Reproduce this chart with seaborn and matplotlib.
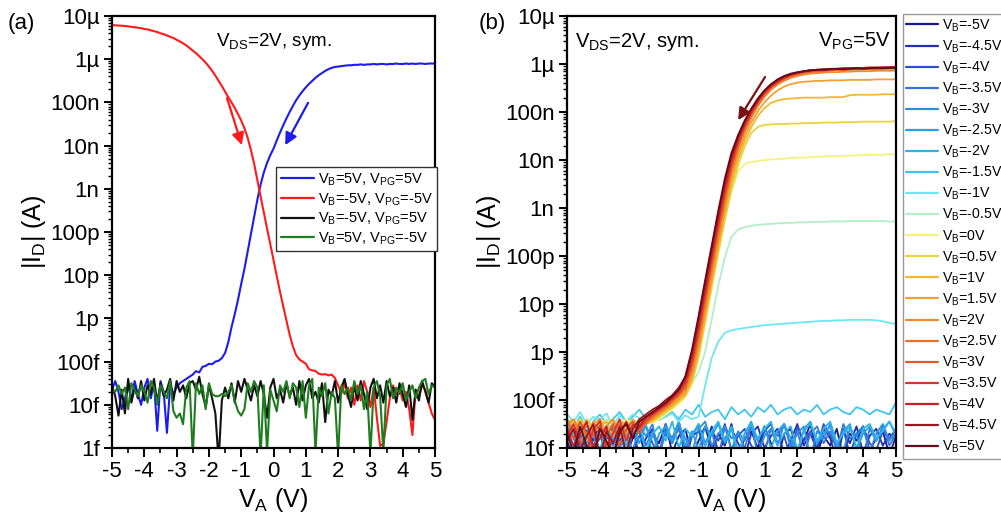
import numpy as np
import pandas as pd
import matplotlib
matplotlib.use("Agg")
import matplotlib.pyplot as plt
from matplotlib.lines import Line2D
from matplotlib.ticker import LogLocator, NullFormatter, MultipleLocator
import seaborn as sns

# ---------------------------------------------------------------- sweep grids
va_fine = np.round(np.linspace(-5, 5, 101), 2)    # panel (a), 0.1 V steps
va_coarse = np.round(np.linspace(-5, 5, 51), 2)   # panel (b), 0.2 V steps

# ------------------------------------------------ panel (a): log10(|I_D| / A)
a_b5_pg5 = [
    -13.65, -13.45, -13.70, -14.10, -13.85, -13.55, -13.90, -13.45, -13.75, -14.00,
    -13.60, -13.40, -13.85, -13.50, -14.60, -13.45, -13.70, -14.65, -13.55, -13.75,
    -13.60, -13.50, -13.45, -13.40, -13.35, -13.30, -13.22, -13.25, -13.12, -13.10,
    -13.05, -13.06, -13.00, -12.98, -12.92, -12.80, -12.55, -12.20, -11.90, -11.57,
    -11.20, -10.85, -10.45, -10.05, -9.65, -9.25, -8.90, -8.62, -8.40, -8.22,
    -8.07, -7.88, -7.70, -7.53, -7.37, -7.22, -7.08, -6.95, -6.84, -6.74,
    -6.65, -6.57, -6.50, -6.43, -6.37, -6.32, -6.27, -6.23, -6.20, -6.18,
    -6.17, -6.16, -6.15, -6.14, -6.14, -6.13, -6.13, -6.12, -6.13, -6.12,
    -6.12, -6.11, -6.12, -6.11, -6.11, -6.12, -6.11, -6.11, -6.10, -6.11,
    -6.11, -6.10, -6.11, -6.10, -6.11, -6.10, -6.10, -6.11, -6.10, -6.10,
    -6.10]
a_bm5_pgm5 = [
    -5.21, -5.215, -5.22, -5.225, -5.23, -5.24, -5.25, -5.26, -5.27, -5.28,
    -5.30, -5.31, -5.33, -5.35, -5.37, -5.40, -5.42, -5.45, -5.48, -5.51,
    -5.55, -5.59, -5.63, -5.68, -5.74, -5.80, -5.86, -5.93, -6.00, -6.08,
    -6.17, -6.27, -6.38, -6.50, -6.62, -6.75, -6.88, -7.00, -7.13, -7.27,
    -7.42, -7.60, -7.82, -8.10, -8.42, -8.80, -9.18, -9.55, -9.92, -10.28,
    -10.65, -11.02, -11.38, -11.72, -12.05, -12.38, -12.65, -12.85, -12.95, -13.00,
    -13.05, -13.18, -13.20, -13.22, -13.28, -13.30, -13.29, -13.32, -13.30, -13.38,
    -13.55, -13.75, -13.50, -13.85, -13.60, -14.00, -13.55, -13.90, -13.45, -13.70,
    -14.05, -13.60, -14.30, -14.95, -14.90, -14.40, -13.85, -13.55, -13.75, -13.60,
    -13.90, -13.70, -14.10, -14.70, -13.65, -13.80, -13.55, -13.65, -13.95, -14.20,
    -14.35]
a_bm5_pg5 = [
    -13.55, -13.80, -14.25, -13.65, -14.20, -13.40, -13.95, -13.60, -13.85, -13.45,
    -13.90, -13.55, -13.75, -13.40, -13.95, -13.50, -13.80, -13.65, -13.40, -13.90,
    -13.45, -13.70, -13.55, -13.85, -13.50, -13.45, -13.65, -13.35, -13.75, -14.05,
    -13.55, -13.85, -14.20, -15.30, -13.90, -13.60, -13.85, -13.50, -13.95, -13.45,
    -13.70, -13.40, -13.65, -13.90, -13.55, -13.80, -13.45, -13.75, -14.30, -13.60,
    -13.40, -13.85, -13.65, -13.95, -13.50, -13.80, -13.60, -14.00, -13.45, -13.90,
    -13.55, -13.40, -13.85, -13.70, -13.95, -13.50, -14.40, -13.65, -13.80, -13.45,
    -13.95, -13.60, -13.40, -13.75, -14.05, -13.55, -13.90, -13.45, -13.75, -14.10,
    -13.60, -13.40, -13.85, -13.55, -13.95, -13.45, -13.80, -13.60, -13.95, -13.50,
    -13.75, -14.05, -13.55, -14.35, -13.65, -13.90, -13.45, -13.70, -13.95, -13.50,
    -13.60]
a_b5_pgm5 = [
    -13.65, -13.70, -13.55, -13.75, -13.60, -14.10, -13.50, -13.65, -13.80, -13.55,
    -13.70, -13.95, -13.45, -13.60, -14.00, -13.55, -13.70, -13.85, -13.45, -14.15,
    -14.30, -14.20, -14.45, -13.60, -13.45, -15.20, -13.50, -13.75, -13.55, -14.10,
    -13.50, -13.75, -13.80, -13.80, -13.75, -13.80, -13.70, -13.55, -13.90, -14.15,
    -14.25, -14.10, -13.50, -13.70, -13.45, -13.60, -15.20, -13.55, -15.10, -13.65,
    -13.90, -14.15, -13.55, -13.70, -13.45, -13.85, -13.50, -13.60, -14.05, -13.45,
    -14.30, -13.55, -13.40, -15.10, -13.60, -13.80, -13.50, -14.20, -13.70, -13.85,
    -15.20, -13.55, -13.75, -13.60, -13.90, -13.45, -13.75, -13.55, -14.10, -13.70,
    -15.15, -13.60, -13.45, -13.80, -15.10, -13.55, -13.40, -13.85, -13.60, -13.75,
    -13.50, -13.90, -13.70, -13.55, -13.85, -13.60, -13.45, -13.40, -13.75, -13.55,
    -13.60]
a_labels = [r"V$_{B}$=5V, V$_{PG}$=5V", r"V$_{B}$=-5V, V$_{PG}$=-5V",
            r"V$_{B}$=-5V, V$_{PG}$=5V", r"V$_{B}$=5V, V$_{PG}$=-5V"]
a_colors = ["#1c1cf0", "#ff1a1a", "#111111", "#1e7d1e"]

# ------------------------------------- panel (b): log10(|I_D| / A), V_PG = 5 V
b_m5_0 = [
    -13.85, -14.20, -13.70, -14.05, -13.60, -14.30, -13.75, -13.95, -13.55, -14.15,
    -13.80, -13.65, -14.25, -13.70, -13.90, -13.50, -14.10, -13.75, -13.60, -14.20,
    -13.85, -13.55, -14.05, -13.70, -13.95, -13.50, -14.15, -13.80, -13.65, -14.00,
    -13.55, -13.90, -14.25, -13.70, -13.60, -14.05, -13.85, -13.50, -14.10, -13.75,
    -13.95, -13.60, -14.20, -13.70, -13.85, -13.55, -14.05, -13.80, -13.65, -14.15,
    -13.75]
b_m4_5 = [
    -13.70, -13.95, -14.15, -13.60, -13.85, -13.50, -14.10, -13.75, -14.00, -13.65,
    -13.55, -14.20, -13.80, -13.60, -14.05, -13.70, -13.90, -13.50, -14.25, -13.75,
    -13.65, -13.95, -13.55, -14.10, -13.80, -13.60, -13.90, -14.20, -13.70, -13.55,
    -14.00, -13.75, -13.60, -14.15, -13.85, -13.50, -13.95, -13.70, -14.05, -13.60,
    -13.80, -14.25, -13.65, -13.90, -13.55, -14.10, -13.75, -13.60, -13.95, -13.70,
    -13.85]
b_m4_0 = [
    -13.60, -13.80, -14.05, -13.55, -13.95, -13.70, -14.20, -13.50, -13.85, -13.65,
    -14.10, -13.75, -13.55, -13.90, -14.15, -13.60, -13.80, -13.45, -14.00, -13.70,
    -13.55, -14.25, -13.65, -13.85, -13.50, -14.05, -13.75, -13.60, -13.95, -14.10,
    -13.65, -13.50, -13.90, -13.75, -14.20, -13.55, -13.85, -13.65, -14.00, -13.50,
    -13.75, -13.95, -13.60, -14.15, -13.70, -13.55, -13.90, -14.05, -13.65, -13.80,
    -13.60]
b_m3_5 = [
    -13.90, -13.55, -13.75, -14.10, -13.65, -13.50, -14.00, -13.80, -13.60, -14.20,
    -13.70, -13.55, -13.95, -13.65, -14.15, -13.50, -13.85, -13.60, -14.05, -13.75,
    -13.50, -13.90, -13.65, -14.20, -13.55, -13.80, -13.70, -14.00, -13.55, -13.85,
    -14.10, -13.60, -13.75, -13.50, -13.95, -13.65, -14.15, -13.70, -13.55, -13.90,
    -13.65, -14.05, -13.50, -13.80, -13.70, -14.20, -13.60, -13.85, -13.55, -13.95,
    -13.70]
b_m3_0 = [
    -13.65, -14.00, -13.50, -13.85, -13.70, -14.15, -13.55, -13.95, -13.65, -13.80,
    -14.05, -13.55, -13.75, -13.50, -14.20, -13.65, -13.90, -13.55, -13.80, -14.10,
    -13.60, -13.45, -13.95, -13.70, -13.55, -14.05, -13.65, -13.85, -13.50, -14.15,
    -13.75, -13.60, -13.95, -13.50, -14.00, -13.70, -13.55, -14.20, -13.65, -13.80,
    -13.50, -13.90, -14.05, -13.60, -13.75, -13.55, -14.10, -13.70, -13.50, -13.85,
    -13.65]
b_m2_5 = [
    -13.55, -13.75, -13.95, -13.50, -14.10, -13.65, -13.80, -13.45, -14.00, -13.70,
    -13.60, -13.90, -13.50, -14.15, -13.70, -13.55, -13.85, -13.45, -13.95, -13.65,
    -14.05, -13.55, -13.75, -13.50, -13.90, -13.60, -14.20, -13.70, -13.45, -13.85,
    -13.55, -14.00, -13.65, -13.50, -13.80, -14.10, -13.60, -13.45, -13.90, -13.70,
    -13.55, -13.95, -13.65, -13.50, -14.05, -13.70, -13.55, -13.85, -13.60, -13.45,
    -13.75]
b_m2_0 = [
    -13.50, -13.70, -13.45, -13.90, -13.60, -14.05, -13.55, -13.80, -13.45, -13.95,
    -13.65, -13.50, -14.10, -13.70, -13.55, -13.85, -13.45, -14.00, -13.60, -13.75,
    -13.50, -13.95, -13.65, -13.45, -13.85, -13.55, -14.10, -13.70, -13.50, -13.80,
    -13.60, -13.45, -13.95, -13.70, -13.55, -14.05, -13.65, -13.50, -13.85, -13.60,
    -13.45, -13.90, -13.70, -13.55, -14.00, -13.60, -13.50, -13.80, -13.65, -13.45,
    -13.70]
b_m1_5 = [
    -13.40, -13.55, -13.35, -13.60, -13.45, -13.30, -13.50, -13.40, -13.25, -13.45,
    -13.35, -13.20, -13.40, -13.30, -13.15, -13.35, -13.25, -13.40, -13.20, -13.30,
    -13.10, -13.35, -13.25, -13.20, -13.40, -13.15, -13.30, -13.20, -13.35, -13.15,
    -13.25, -13.10, -13.30, -13.20, -13.15, -13.30, -13.20, -13.25, -13.10, -13.30,
    -13.20, -13.15, -13.25, -13.30, -13.15, -13.20, -13.30, -13.20, -13.25, -13.30,
    -13.05]
b_m1_0 = [
    -13.30, -13.45, -13.25, -13.50, -13.35, -13.40, -13.28, -13.55, -13.32, -13.45,
    -13.30, -13.38, -13.50, -13.30, -13.42, -13.35, -13.28, -13.45, -13.32, -13.40,
    -13.35, -12.70, -12.12, -11.78, -11.60, -11.55, -11.52, -11.50, -11.48, -11.46,
    -11.44, -11.43, -11.42, -11.41, -11.40, -11.39, -11.38, -11.37, -11.36, -11.35,
    -11.35, -11.34, -11.34, -11.33, -11.33, -11.33, -11.33, -11.34, -11.36, -11.39,
    -11.42]
b_m0_5 = [
    -13.45, -13.55, -13.40, -13.60, -13.45, -13.50, -13.40, -13.55, -13.45, -13.50,
    -13.40, -13.48, -13.42, -13.35, -13.30, -13.22, -13.12, -13.00, -12.85, -12.65,
    -12.42, -12.00, -11.32, -10.62, -10.02, -9.60, -9.45, -9.40, -9.37, -9.35,
    -9.34, -9.33, -9.32, -9.31, -9.31, -9.30, -9.30, -9.29, -9.29, -9.29,
    -9.28, -9.28, -9.28, -9.27, -9.27, -9.27, -9.27, -9.27, -9.27, -9.28,
    -9.28]
b_p0_0 = [
    -13.50, -13.40, -13.55, -13.45, -13.60, -13.40, -13.50, -13.45, -13.55, -13.40,
    -13.50, -13.45, -13.48, -13.48, -13.40, -13.30, -13.20, -13.08, -12.94, -12.66,
    -12.12, -11.40, -10.66, -9.93, -9.25, -8.66, -8.24, -8.08, -8.04, -8.02,
    -8.00, -7.99, -7.98, -7.97, -7.96, -7.95, -7.95, -7.94, -7.93, -7.93,
    -7.92, -7.92, -7.91, -7.91, -7.90, -7.90, -7.89, -7.89, -7.89, -7.88,
    -7.88]
b_p0_5 = [
    -13.45, -13.60, -13.40, -13.55, -13.70, -13.45, -13.50, -13.40, -13.65, -13.50,
    -13.45, -13.55, -13.50, -13.45, -13.36, -13.26, -13.16, -13.04, -12.92, -12.64,
    -12.10, -11.38, -10.65, -9.93, -9.24, -8.62, -8.12, -7.72, -7.44, -7.31,
    -7.27, -7.26, -7.25, -7.25, -7.24, -7.24, -7.23, -7.23, -7.23, -7.22,
    -7.22, -7.22, -7.21, -7.21, -7.21, -7.20, -7.20, -7.20, -7.20, -7.20,
    -7.19]
b_p1_0 = [
    -13.55, -13.45, -13.70, -13.40, -13.60, -13.50, -13.45, -13.75, -13.40, -13.55,
    -13.45, -13.60, -13.50, -13.42, -13.32, -13.22, -13.12, -13.00, -12.88, -12.56,
    -12.00, -11.27, -10.54, -9.82, -9.12, -8.48, -8.00, -7.62, -7.32, -7.08,
    -6.92, -6.81, -6.76, -6.73, -6.72, -6.71, -6.70, -6.70, -6.70, -6.70,
    -6.69, -6.69, -6.69, -6.65, -6.64, -6.64, -6.64, -6.64, -6.63, -6.63,
    -6.63]
b_p1_5 = [
    -13.40, -13.60, -13.45, -13.75, -13.50, -13.40, -13.65, -13.55, -13.45, -13.70,
    -13.40, -13.55, -13.45, -13.40, -13.30, -13.20, -13.10, -12.97, -12.85, -12.50,
    -11.92, -11.18, -10.45, -9.72, -9.02, -8.38, -7.90, -7.52, -7.22, -6.98,
    -6.80, -6.66, -6.55, -6.47, -6.42, -6.39, -6.37, -6.36, -6.35, -6.35,
    -6.34, -6.34, -6.34, -6.33, -6.33, -6.33, -6.33, -6.32, -6.32, -6.32,
    -6.32]
b_p2_0 = [
    -13.50, -13.40, -13.65, -13.85, -13.45, -13.70, -13.55, -13.40, -13.75, -13.50,
    -13.65, -13.40, -13.45, -13.38, -13.28, -13.18, -13.06, -12.93, -12.80, -12.42,
    -11.82, -11.08, -10.35, -9.62, -8.92, -8.28, -7.80, -7.42, -7.12, -6.88,
    -6.69, -6.54, -6.43, -6.35, -6.29, -6.25, -6.22, -6.20, -6.19, -6.18,
    -6.17, -6.17, -6.16, -6.16, -6.15, -6.15, -6.15, -6.14, -6.14, -6.14,
    -6.14]
b_p2_5 = [
    -13.45, -13.65, -13.90, -13.50, -13.75, -13.40, -14.05, -13.65, -13.50, -13.80,
    -13.55, -13.45, -13.50, -13.35, -13.25, -13.15, -13.03, -12.90, -12.75, -12.34,
    -11.72, -10.98, -10.25, -9.52, -8.83, -8.20, -7.74, -7.37, -7.08, -6.84,
    -6.65, -6.50, -6.40, -6.32, -6.26, -6.22, -6.19, -6.17, -6.16, -6.15,
    -6.14, -6.13, -6.13, -6.12, -6.12, -6.11, -6.11, -6.11, -6.10, -6.10,
    -6.10]
b_p3_0 = [
    -13.55, -13.80, -13.45, -13.70, -14.10, -13.55, -13.75, -13.50, -13.95, -13.60,
    -13.45, -13.70, -13.45, -13.32, -13.22, -13.12, -13.00, -12.88, -12.70, -12.26,
    -11.62, -10.88, -10.15, -9.42, -8.74, -8.13, -7.68, -7.32, -7.04, -6.81,
    -6.62, -6.48, -6.38, -6.30, -6.24, -6.20, -6.17, -6.15, -6.14, -6.13,
    -6.12, -6.11, -6.11, -6.10, -6.10, -6.09, -6.09, -6.09, -6.08, -6.08,
    -6.08]
b_p3_5 = [
    -13.75, -13.50, -13.90, -14.15, -13.60, -13.45, -13.95, -13.70, -13.40, -13.85,
    -13.50, -13.60, -13.40, -13.30, -13.20, -13.10, -12.98, -12.85, -12.64, -12.18,
    -11.52, -10.78, -10.05, -9.32, -8.64, -8.05, -7.62, -7.28, -7.01, -6.78,
    -6.60, -6.47, -6.37, -6.29, -6.23, -6.19, -6.16, -6.14, -6.13, -6.12,
    -6.11, -6.10, -6.10, -6.09, -6.09, -6.08, -6.08, -6.08, -6.07, -6.07,
    -6.07]
b_p4_0 = [
    -13.60, -13.95, -13.70, -13.45, -14.00, -13.80, -13.55, -14.25, -13.70, -13.45,
    -13.75, -13.55, -13.35, -13.28, -13.18, -13.08, -12.95, -12.80, -12.58, -12.10,
    -11.42, -10.68, -9.95, -9.22, -8.55, -7.98, -7.57, -7.24, -6.98, -6.76,
    -6.58, -6.45, -6.35, -6.27, -6.22, -6.18, -6.15, -6.13, -6.12, -6.11,
    -6.10, -6.10, -6.09, -6.09, -6.08, -6.08, -6.07, -6.08, -6.07, -6.07,
    -6.06]
b_p4_5 = [
    -13.85, -13.60, -14.05, -13.75, -13.50, -14.20, -13.65, -13.90, -13.55, -14.10,
    -13.60, -13.40, -13.30, -13.20, -13.12, -13.00, -12.90, -12.74, -12.52, -12.00,
    -11.30, -10.56, -9.84, -9.12, -8.45, -7.90, -7.52, -7.20, -6.95, -6.73,
    -6.56, -6.43, -6.33, -6.26, -6.21, -6.18, -6.15, -6.13, -6.12, -6.11,
    -6.10, -6.10, -6.09, -6.09, -6.08, -6.09, -6.08, -6.07, -6.08, -6.07,
    -6.07]
b_p5_0 = [
    -13.70, -14.10, -13.55, -13.95, -14.20, -13.60, -13.85, -14.15, -13.65, -13.50,
    -13.80, -13.45, -13.35, -13.25, -13.15, -13.05, -12.92, -12.78, -12.50, -11.95,
    -11.25, -10.50, -9.78, -9.05, -8.38, -7.85, -7.48, -7.18, -6.93, -6.72,
    -6.55, -6.42, -6.32, -6.25, -6.20, -6.17, -6.15, -6.13, -6.12, -6.12,
    -6.11, -6.10, -6.11, -6.10, -6.09, -6.10, -6.09, -6.08, -6.09, -6.08,
    -6.08]

b_series = [b_m5_0, b_m4_5, b_m4_0, b_m3_5, b_m3_0, b_m2_5, b_m2_0, b_m1_5,
            b_m1_0, b_m0_5, b_p0_0, b_p0_5, b_p1_0, b_p1_5, b_p2_0, b_p2_5,
            b_p3_0, b_p3_5, b_p4_0, b_p4_5, b_p5_0]
b_names = ["-5", "-4.5", "-4", "-3.5", "-3", "-2.5", "-2", "-1.5", "-1", "-0.5",
           "0", "0.5", "1", "1.5", "2", "2.5", "3", "3.5", "4", "4.5", "5"]
b_colors = ["#17178a", "#1f2fb4", "#2a52c8", "#3a74d6", "#2e8de0", "#27a2e6",
            "#2bb4ea", "#40c6ee", "#6ee6f0", "#b2eec6", "#f6f07c", "#e8d43c",
            "#f3b831", "#f1a132", "#ef8d2d", "#e9722b", "#e3582a", "#dc3232",
            "#c81f29", "#9a1421", "#640d18"]

y_tick_vals = [1e-15, 1e-14, 1e-13, 1e-12, 1e-11, 1e-10, 1e-9, 1e-8, 1e-7, 1e-6, 1e-5]
y_tick_text = ["1f", "10f", "100f", "1p", "10p", "100p", "1n", "10n", "100n", "1µ", "10µ"]

# ----------------------------------------------------------------- styling
sns.set_theme(style="ticks")
plt.rcParams.update({
    "font.family": ["Liberation Sans", "DejaVu Sans"],
    "mathtext.default": "regular",
    "axes.unicode_minus": False,
    "axes.linewidth": 1.6,
    "axes.edgecolor": "black",
    "text.color": "black",
    "axes.labelcolor": "black",
    "xtick.color": "black",
    "ytick.color": "black",
    "xtick.direction": "out",
    "ytick.direction": "out",
    "xtick.major.size": 6.5,
    "xtick.minor.size": 3.5,
    "ytick.major.size": 6,
    "ytick.minor.size": 3,
    "xtick.major.width": 1.4,
    "xtick.minor.width": 1.2,
    "ytick.major.width": 1.4,
    "ytick.minor.width": 1.0,
    "xtick.major.pad": 3,
    "ytick.major.pad": 3,
})

fig = plt.figure(figsize=(10.01, 5.29), dpi=100)
ax_a = fig.add_axes([0.1119, 0.1531, 0.3227, 0.8166])
ax_b = fig.add_axes([0.5664, 0.1531, 0.3287, 0.8166])


def style_axis(ax, ymin):
    ax.set_yscale("log")
    ax.set_xlim(-5, 5)
    ax.set_ylim(ymin, 1e-5)
    keep = [i for i, v in enumerate(y_tick_vals) if v >= ymin]
    ax.set_yticks([y_tick_vals[i] for i in keep], [y_tick_text[i] for i in keep])
    ax.yaxis.set_minor_locator(LogLocator(base=10, subs=np.arange(2, 10), numticks=30))
    ax.yaxis.set_minor_formatter(NullFormatter())
    ax.set_xticks(np.arange(-5, 6, 1))
    ax.xaxis.set_minor_locator(MultipleLocator(0.5))
    ax.tick_params(axis="both", which="major", labelsize=16)
    ax.set_xlabel(r"V$_{A}$ (V)", fontsize=18, labelpad=3)
    ax.set_ylabel(r"|I$_{D}$| (A)", fontsize=18, labelpad=1)
    for side in ("top", "right", "left", "bottom"):
        ax.spines[side].set_visible(True)
        ax.spines[side].set_linewidth(1.6)


# ------------------------------------------------------------- panel (a)
a_series = [a_b5_pg5, a_bm5_pgm5, a_bm5_pg5, a_b5_pgm5]
df_a = pd.concat([
    pd.DataFrame({"VA": va_fine, "ID": np.power(10.0, vals), "trace": lab})
    for vals, lab in zip(a_series, a_labels)
], ignore_index=True)
sns.lineplot(data=df_a, x="VA", y="ID", hue="trace", hue_order=a_labels,
             palette=dict(zip(a_labels, a_colors)), estimator=None, sort=False,
             linewidth=1.5, legend=False, ax=ax_a)
style_axis(ax_a, 1e-15)

ax_a.annotate("", xy=(-0.98, 10 ** -7.99), xytext=(-1.44, 10 ** -6.90),
              arrowprops=dict(arrowstyle="-|>", color="#ff1a1a", lw=1.6,
                              mutation_scale=18, shrinkA=0, shrinkB=0))
ax_a.annotate("", xy=(0.36, 10 ** -7.99), xytext=(1.07, 10 ** -7.01),
              arrowprops=dict(arrowstyle="-|>", color="#1c1cf0", lw=1.6,
                              mutation_scale=18, shrinkA=0, shrinkB=0))
ax_a.text(0.5, 0.965, r"V$_{DS}$=2V, sym.", transform=ax_a.transAxes,
          ha="center", va="top", fontsize=13.5)

handles_a = [Line2D([0], [0], color=c, lw=1.6) for c in a_colors]
leg_a = ax_a.legend(handles_a, a_labels, loc="upper right",
                    bbox_to_anchor=(1.006, 0.650), fontsize=10.5, frameon=True,
                    fancybox=False, edgecolor="#333333", framealpha=1,
                    handlelength=2.3, handletextpad=0.25, labelspacing=0.22,
                    borderpad=0.3, borderaxespad=0)
leg_a.get_frame().set_linewidth(1.0)
fig.text(0.008, 0.955, "(a)", fontsize=16, ha="left", va="center")

# ------------------------------------------------------------- panel (b)
df_b = pd.concat([
    pd.DataFrame({"VA": va_coarse, "ID": np.power(10.0, vals), "VB": name})
    for vals, name in zip(b_series, b_names)
], ignore_index=True)
sns.lineplot(data=df_b, x="VA", y="ID", hue="VB", hue_order=b_names,
             palette=dict(zip(b_names, b_colors)), estimator=None, sort=False,
             linewidth=1.3, legend=False, ax=ax_b)
style_axis(ax_b, 1e-14)

ax_b.annotate("", xy=(0.20, 10 ** -7.17), xytext=(1.02, 10 ** -6.27),
              arrowprops=dict(arrowstyle="-|>", color="#7a1212", lw=1.6,
                              mutation_scale=18, shrinkA=0, shrinkB=0))
ax_b.text(0.025, 0.965, r"V$_{DS}$=2V, sym.", transform=ax_b.transAxes,
          ha="left", va="top", fontsize=14.5)
ax_b.text(0.985, 0.965, r"V$_{PG}$=5V", transform=ax_b.transAxes,
          ha="right", va="top", fontsize=14.5)

handles_b = [Line2D([0], [0], color=c, lw=1.6) for c in b_colors]
labels_b = [r"V$_{B}$=" + n + "V" for n in b_names]
leg_b = ax_b.legend(handles_b, labels_b, loc="upper left",
                    bbox_to_anchor=(1.021, 1.005), fontsize=10.2, frameon=True,
                    fancybox=False, edgecolor="#9a9a9a", framealpha=1,
                    handlelength=2.2, handletextpad=0.3, labelspacing=0.33,
                    borderpad=0.25, borderaxespad=0)
leg_b.get_frame().set_linewidth(1.0)
fig.text(0.478, 0.955, "(b)", fontsize=16, ha="left", va="center")

fig.savefig("out.png", dpi=100)
